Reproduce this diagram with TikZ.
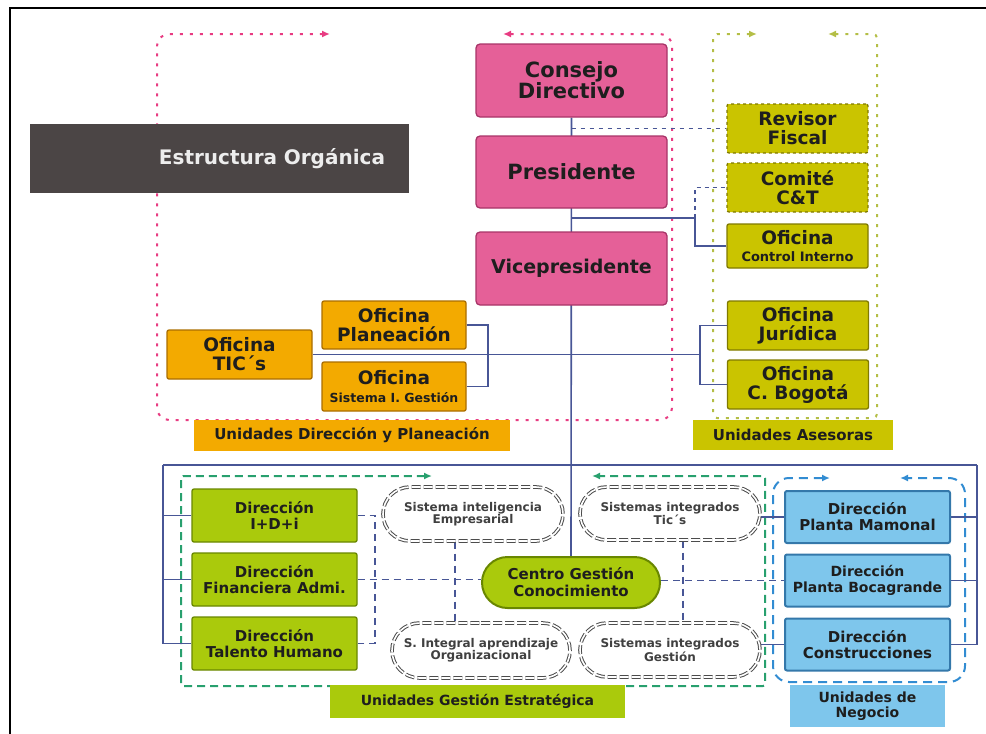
\documentclass[tikz,border=0pt]{standalone}
\usepackage{fontspec}
\setmainfont{DejaVu Sans}
\usetikzlibrary{shapes.misc,arrows.meta}
\definecolor{rosa}{RGB}{229,96,152}
\definecolor{rosaosc}{RGB}{168,52,104}
\definecolor{rosapunto}{RGB}{232,60,130}
\definecolor{oliva}{RGB}{202,196,0}
\definecolor{olivaosc}{RGB}{128,122,0}
\definecolor{olivapunto}{RGB}{180,190,70}
\definecolor{naranja}{RGB}{243,170,0}
\definecolor{naranjaosc}{RGB}{170,110,0}
\definecolor{lima}{RGB}{170,202,12}
\definecolor{limaosc}{RGB}{105,135,0}
\definecolor{verdeguion}{RGB}{40,160,110}
\definecolor{celeste}{RGB}{126,198,236}
\definecolor{celesteosc}{RGB}{52,120,170}
\definecolor{azulguion}{RGB}{50,140,210}
\definecolor{azulcon}{RGB}{72,86,150}
\definecolor{grisosc}{RGB}{75,69,69}
\definecolor{texto}{RGB}{30,30,30}
\pgfdeclarelayer{lineas}
\pgfsetlayers{lineas,main}
\tikzset{
  caja/.style={line width=1.3pt, text=texto, align=center, inner sep=0pt},
  rosabox/.style={caja, draw=rosaosc, fill=rosa, rounded corners=4pt, minimum width=191pt, minimum height=73pt, font=\bfseries\fontsize{21}{21}\selectfont},
  olivabox/.style={caja, draw=olivaosc, fill=oliva, rounded corners=2pt, minimum width=141pt, minimum height=49pt, font=\bfseries\fontsize{18.5}{19}\selectfont},
  naranjabox/.style={caja, draw=naranjaosc, fill=naranja, rounded corners=2pt, minimum width=145pt, minimum height=49pt, font=\bfseries\fontsize{18.5}{19}\selectfont},
  limabox/.style={caja, draw=limaosc, fill=lima, rounded corners=2pt, minimum width=165pt, minimum height=53pt, font=\bfseries\fontsize{15}{16}\selectfont},
  celestebox/.style={caja, draw=celesteosc, fill=celeste, line width=2pt, rounded corners=2pt, minimum width=165pt, minimum height=52pt, font=\bfseries\fontsize{15}{16}\selectfont},
  pildora/.style={rounded rectangle, draw=gray!60!black, double=white, double distance=1.6pt, line width=1pt, dash pattern=on 9pt off 3pt, fill=white, text=texto!85, align=center, inner sep=0pt, minimum width=180pt, minimum height=54pt, font=\bfseries\fontsize{12}{12}\selectfont},
  etiqueta/.style={fill=#1, text=texto, align=center, inner sep=0pt, font=\bfseries\fontsize{15}{15}\selectfont},
  conn/.style={draw=azulcon, line width=1.6pt},
  conndash/.style={conn, dash pattern=on 7pt off 5pt},
  grupo/.style={line width=2pt, rounded corners=12pt, {Latex[length=8pt,width=7pt]}-{Latex[length=8pt,width=7pt]}}
}
\begin{document}
\begin{tikzpicture}[x=1pt,y=-1pt]
\useasboundingbox (0,0) rectangle (986,734);
\draw[line width=2pt] (10,734) -- (10,8) -- (986,8);

% nodos
\node[fill=grisosc, minimum width=379pt, minimum height=69pt, text width=331pt, align=right, inner sep=0pt, text=white!93!black, font=\bfseries\fontsize{20}{20}\selectfont] (estr) at (219.5,158.5) {Estructura Orgánica};

\node[rosabox] (cons) at (571.5,80.5) {Consejo\\Directivo};
\node[rosabox, minimum height=72pt] (pres) at (571.5,172) {Presidente};
\node[rosabox, font=\bfseries\fontsize{19}{19}\selectfont] (vice) at (571.5,268.5) {Vicepresidente};

\node[olivabox, dashed] (rev) at (797.5,128.5) {Revisor\\Fiscal};
\node[olivabox, dashed] (com) at (797.5,187.5) {Comité\\C\&T};
\node[olivabox, minimum height=44pt] (ctrl) at (797.5,246) {Oficina\\[-2pt]{\fontsize{13}{13}\selectfont Control Interno}};
\node[olivabox] (jur) at (798,325.5) {Oficina\\Jurídica};
\node[olivabox] (bog) at (798,384.5) {Oficina\\C. Bogotá};
\node[etiqueta=oliva, minimum width=200pt, minimum height=30pt] (ases) at (793,435) {Unidades Asesoras};

\node[naranjabox, minimum width=144pt, minimum height=48pt] (plan) at (394,325) {Oficina\\Planeación};
\node[naranjabox, minimum width=144pt] (sig) at (394,386.5) {Oficina\\[-1pt]{\fontsize{12.5}{13}\selectfont Sistema I. Gestión}};
\node[naranjabox] (tic) at (239.5,354.5) {Oficina\\TIC´s};
\node[etiqueta=naranja, minimum width=316pt, minimum height=31pt] (dirp) at (352,435.5) {Unidades Dirección y Planeación};

\node[limabox] (idi) at (274.5,515.5) {Dirección\\I+D+i};
\node[limabox] (fin) at (274.5,579.5) {Dirección\\Financiera Admi.};
\node[limabox] (tal) at (274.5,643.5) {Dirección\\Talento Humano};
\node[pildora] (sie) at (473,514) {Sistema inteligencia\\Empresarial};
\node[pildora, minimum width=178pt, minimum height=55pt] (sia) at (481,650.5) {S. Integral aprendizaje\\Organizacional};
\node[pildora, minimum height=53pt] (sit) at (670,513.5) {Sistemas integrados\\Tic´s};
\node[pildora] (sges) at (670,650) {Sistemas integrados\\Gestión};
\node[rounded rectangle, draw=limaosc, fill=lima, line width=2pt, text=texto, align=center, inner sep=0pt, minimum width=178pt, minimum height=51pt, font=\bfseries\fontsize{15}{17}\selectfont] (cgc) at (571,582.5) {Centro Gestión\\Conocimiento};
\node[etiqueta=lima, font=\bfseries\fontsize{14}{14}\selectfont, minimum width=295pt, minimum height=33pt] (gest) at (477.5,701.5) {Unidades Gestión Estratégica};

\node[celestebox] (mam) at (867.5,517) {Dirección\\Planta Mamonal};
\node[celestebox, font=\bfseries\fontsize{14}{16}\selectfont] (boc) at (867.5,580.5) {Dirección\\Planta Bocagrande};
\node[celestebox] (con) at (867.5,644.5) {Dirección\\Construcciones};
\node[etiqueta=celeste, font=\bfseries\fontsize{14}{15}\selectfont, minimum width=155pt, minimum height=42pt] (neg) at (867.5,706) {Unidades de\\Negocio};

\coordinate (kp) at (695,218);
\coordinate (rb) at (700,354.5);
\coordinate (lb) at (488,354.5);
\coordinate (bl) at (163,465);
\coordinate (br) at (977,465);
\coordinate (db) at (375,579.5);

\begin{pgfonlayer}{lineas}
% grupos
\draw[grupo, rosapunto, dash pattern=on 3pt off 7pt] (330,34) -- (157,34) -- (157,420) -- (672,420) -- (672,34) -- (503,34);
\draw[grupo, olivapunto, dash pattern=on 3pt off 7pt, rounded corners=4pt] (757,34) -- (713,34) -- (713,418) -- (877,418) -- (877,34) -- (828,34);
\draw[grupo, verdeguion, dash pattern=on 8pt off 5pt, rounded corners=2pt] (432,476) -- (181,476) -- (181,686) -- (765,686) -- (765,476) -- (592,476);
\draw[grupo, azulguion, dash pattern=on 9pt off 6pt, rounded corners=16pt] (830,478) -- (773,478) -- (773,682) -- (965,682) -- (965,478) -- (900,478);

% conectores
\draw[conn] (cons.south) -- (cgc.north);
\draw[conn, dash pattern=on 4pt off 5pt] (cons.south |- rev.west) -- (rev.west);
\draw[conn] (pres.south |- kp) -- (kp) |- (ctrl.west);
\draw[conn, dash pattern=on 4pt off 4pt] (kp) |- (com.west);
\draw[conn] (tic.east) -- (rb);
\draw[conn] (plan.east) -| (lb) |- (sig.east);
\draw[conn] (jur.west) -| (rb) |- (bog.west);
\draw[conn] (bl) -- (br);
\draw[conn] (bl) |- (tal.west);
\draw[conn] (idi.west) -- (idi.west -| bl);
\draw[conn] (fin.west) -- (fin.west -| bl);
\draw[conn] (br) |- (con.east);
\draw[conn] (mam.east) -- (mam.east -| br);
\draw[conn] (boc.east) -- (boc.east -| br);
\draw[conndash] (idi.east) -| (db) |- (tal.east);
\draw[conndash] (fin.east) -- (fin.east -| cgc.west);
\draw[conndash] ([xshift=-18pt]sie.south) -- ([xshift=-18pt]sie.south |- sia.north);
\draw[conndash] ([xshift=13pt]sit.south) -- ([xshift=13pt]sit.south |- sges.north);
\draw[conndash] (boc.west -| cgc.east) -- (boc.west);
\draw[conn] (sit.east |- mam.west) -- (mam.west);
\draw[conn] (sges.east |- con.west) -- (con.west);
\end{pgfonlayer}
\end{tikzpicture}
\end{document}
